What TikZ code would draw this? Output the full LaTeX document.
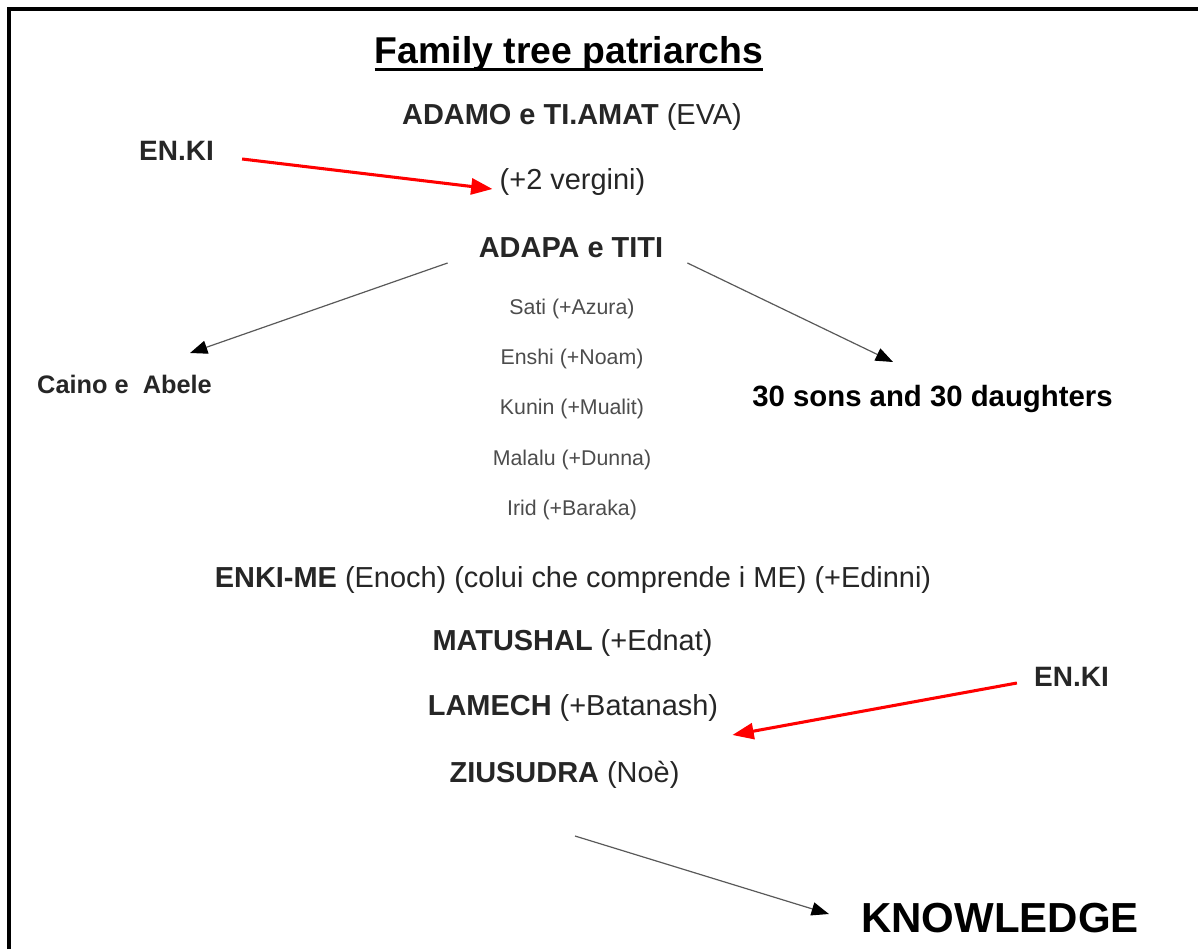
\documentclass[tikz,border=0pt]{standalone}
\usepackage{fontspec}
\setmainfont{Liberation Sans}
\usetikzlibrary{arrows.meta}

\begin{document}
\begin{tikzpicture}[x=0.75pt, y=-0.75pt,
    every node/.style={inner sep=0pt, anchor=base},
    patriarch/.style={font=\fontsize{21.7}{26}\selectfont, text=black!85},
    kidtext/.style={font=\fontsize{16}{20}\selectfont, text=black!70},
    bigbold/.style={font=\fontsize{22}{26}\selectfont\bfseries, text=black},
    grayarrow/.style={-{Triangle[length=13pt, width=10pt, black]}, draw=black!65, line width=0.9pt},
    redarrow/.style={-{Triangle[length=16pt, width=12pt]}, draw=red, line width=2.3pt}]
  \useasboundingbox (0,0) rectangle (1198,949);
  % frame
  \draw[line width=2.5pt] (9,949) -- (9,9) -- (1198,9);

  % title
  \node[font=\fontsize{28}{34}\selectfont\bfseries] (title) at (569,64) {Family tree patriarchs};
  \draw[line width=2.2pt] ([yshift=-4.1pt]title.base west) -- ([yshift=-4.1pt]title.base east);

  % main line
  \node[patriarch] (adamo) at (572,124) {\bfseries ADAMO e TI.AMAT \mdseries(EVA)};
  \node[patriarch] (vergini) at (572.5,189) {(+2 vergini)};
  \node[patriarch] (adapa) at (571,257) {\bfseries ADAPA e TITI};
  \node[patriarch, font=\fontsize{21}{26}\selectfont\bfseries] (enkiL) at (176.5,160) {EN.KI};
  \node[patriarch, font=\fontsize{19}{24}\selectfont\bfseries] (caino) at (124.5,393) {Caino e\ \ Abele};
  \node[bigbold] (sons) at (932.5,406) {30 sons and 30 daughters};

  % sons of Adapa
  \foreach \who [count=\i] in {Sati (+Azura), Enshi (+Noam), Kunin (+Mualit), Malalu (+Dunna), Irid (+Baraka)}
    \node[kidtext] (kid\i) at (572,{314+50.4*(\i-1)}) {\who};

  \node[patriarch] (enkime) at (573,587) {\textbf{ENKI-ME} (Enoch) (colui che comprende i ME) (+Edinni)};
  \node[patriarch] (matushal) at (572.5,650) {\textbf{MATUSHAL} (+Ednat)};
  \node[patriarch] (lamech) at (573,715) {\textbf{LAMECH} (+Batanash)};
  \node[patriarch] (ziusudra) at (564.5,782) {\textbf{ZIUSUDRA} (Noè)};
  \node[patriarch, font=\fontsize{21}{26}\selectfont\bfseries] (enkiR) at (1071.5,686) {EN.KI};
  \node[font=\fontsize{31.5}{38}\selectfont\bfseries] (knowledge) at (1000,932) {KNOWLEDGE};

  % arrows
  \draw[redarrow] ([shift={(28,-1)}]enkiL.base east) -- ([shift={(-7,0)}]vergini.base west);
  \draw[grayarrow] ([shift={(-31,6)}]adapa.base west) -- ([shift={(-22,-40)}]caino.base east);
  \draw[grayarrow] ([shift={(24,6)}]adapa.base east) -- ([shift={(-39.5,-44)}]sons.base);
  \draw[redarrow] ([shift={(-17,-3)}]enkiR.base west) -- ([shift={(14,20)}]lamech.base east);
  \draw[grayarrow] ([shift={(10.5,54)}]ziusudra.base) -- ([shift={(-32,-18)}]knowledge.base west);
\end{tikzpicture}
\end{document}
